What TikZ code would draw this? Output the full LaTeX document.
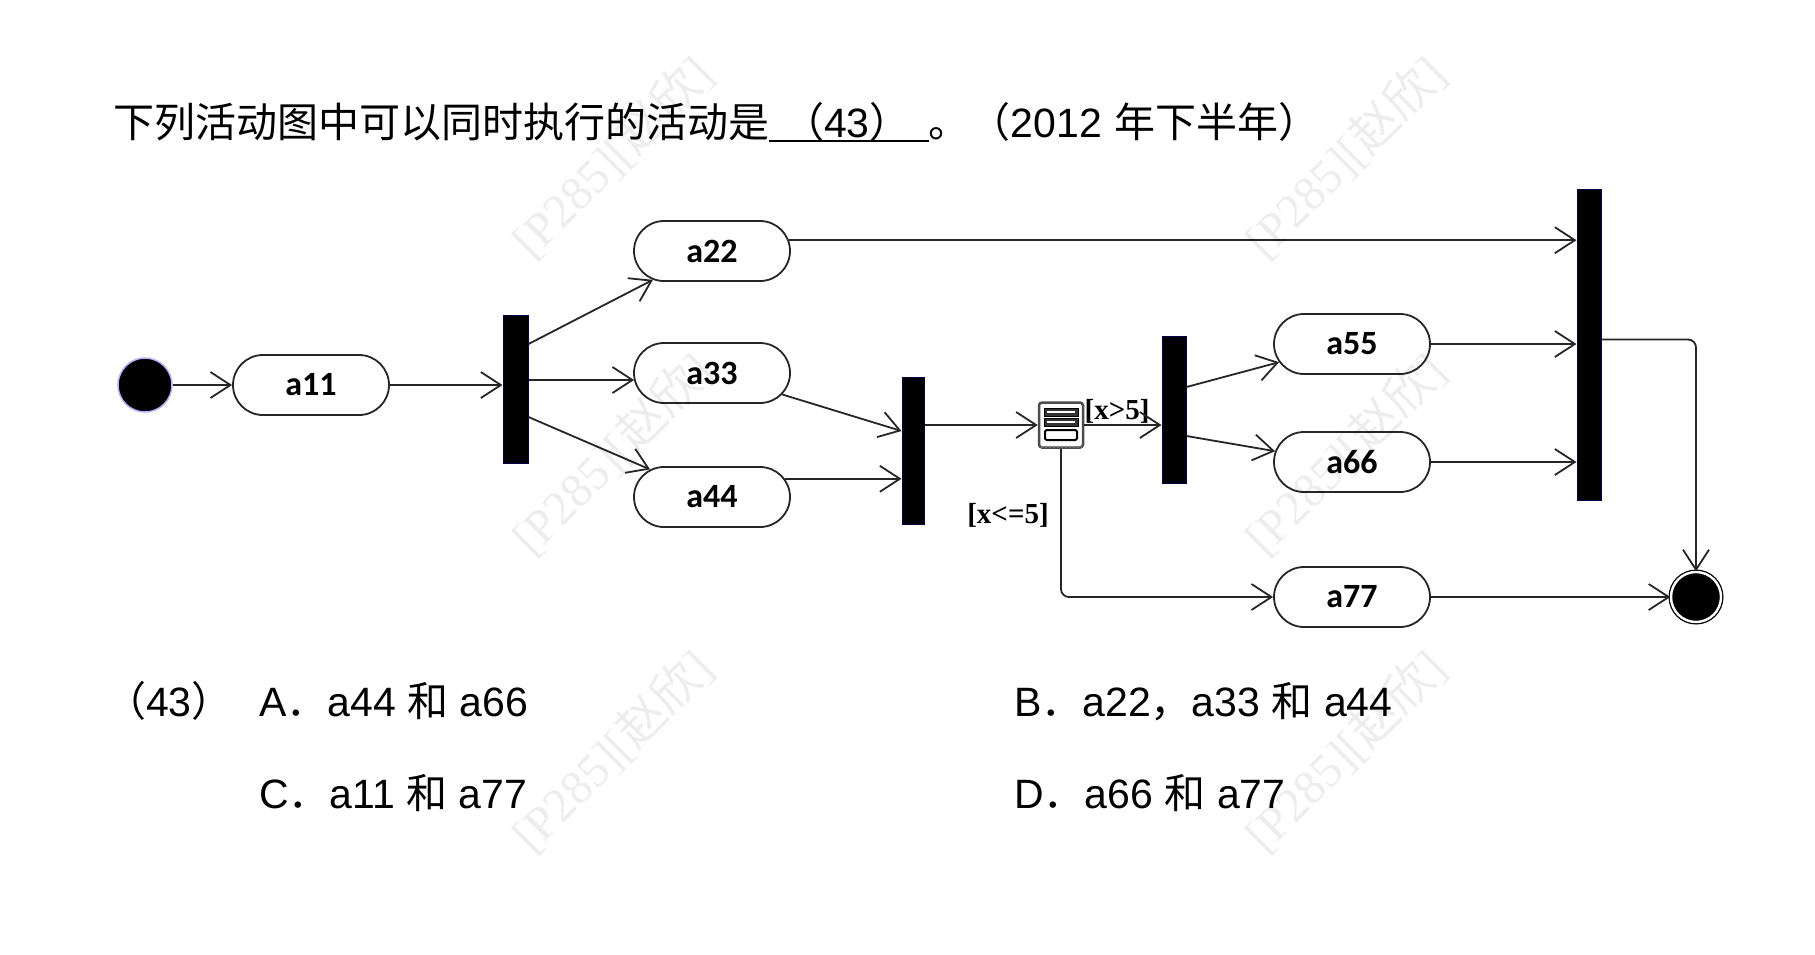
\documentclass[tikz,border=0pt]{standalone}
\usepackage{fontspec}
\setmainfont{Liberation Sans}
\newfontfamily\cjk{Noto Sans CJK SC}
\newfontfamily\lblfont{Carlito}
\newfontfamily\guardfont{Liberation Serif}
\usetikzlibrary{arrows.meta,shapes.misc,calc}
\newcommand\ulbox[1]{\setbox0\hbox{#1}\rlap{\rule[-5pt]{\wd0}{2.5pt}}\box0}
\begin{document}
\begin{tikzpicture}[x=1pt,y=-1pt,
  act/.style={rounded rectangle, draw=black!85, line width=1.8pt, fill=white,
    minimum width=156pt, minimum height=60pt, inner sep=0pt,
    font=\lblfont\bfseries\fontsize{34}{34}\selectfont},
  bar/.style={rectangle, fill=black, draw=blue!30!black, line width=1pt, inner sep=0pt, minimum width=24pt},
  flow/.style={draw=black!85, line width=1.8pt, -{Straight Barb[length=20pt,width=26pt]}},
  guard/.style={inner sep=0pt, font=\guardfont\bfseries\fontsize{29}{29}\selectfont},
  ans/.style={anchor=base west, inner sep=0pt, font=\fontsize{41}{48}\selectfont},
  wm/.style={rotate=45, inner sep=0pt, text=black, text opacity=0.07, font=\guardfont\fontsize{48}{48}\selectfont}
]
\fill[white] (0,0) rectangle (1815,954);
\useasboundingbox (0,0) rectangle (1815,954);

% title
\node[ans] (title) at (113,137) {{\cjk 下列活动图中可以同时执行的活动是}\ulbox{\hspace{14pt}{\cjk （}43{\cjk ）}\hspace{18pt}}{\cjk 。（}2012\hspace{12pt}{\cjk 年下半年）}};

% nodes
\node[circle, fill=black, draw=blue!30, line width=1.5pt, minimum size=54pt, inner sep=0pt] (start) at (145,385) {};
\node[act] (a11) at (311,385) {a11};
\node[bar, minimum width=25pt, minimum height=148pt] (b1) at (515.5,389) {};
\node[act] (a22) at (712,251) {a22};
\node[act] (a33) at (712,373) {a33};
\node[act] (a44) at (712,497) {a44};
\node[bar, minimum width=22pt, minimum height=147pt] (b2) at (913,450.5) {};
\node[rectangle, rounded corners=3pt, draw=black!70, line width=2.5pt, fill=white,
  minimum width=44pt, minimum height=45pt, inner sep=0pt] (dec) at (1061,425) {};
\node[bar, minimum height=147pt] (b3) at (1174,409.5) {};
\node[act] (a55) at (1352,344) {a55};
\node[act] (a66) at (1352,462) {a66};
\node[act] (a77) at (1352,597) {a77};
\node[bar, minimum height=311pt] (b4) at (1589,344.5) {};
\node[circle, fill=black, draw=black, line width=1.3pt, double=white, double distance=2.4pt,
  minimum size=50pt, inner sep=0pt] (end) at (1696,597) {};

% decision icon details
\filldraw[fill=black!80, draw=black, line width=0.8pt] ($(dec.center)+(-17,-17)$) rectangle ($(dec.center)+(17,-9)$);
\draw[white, line width=1.4pt] ($(dec.center)+(-14,-13)$) -- ($(dec.center)+(14,-13)$);
\filldraw[fill=black!80, draw=black, line width=0.8pt] ($(dec.center)+(-17,-7)$) rectangle ($(dec.center)+(17,1)$);
\draw[white, line width=1.4pt] ($(dec.center)+(-14,-3)$) -- ($(dec.center)+(14,-3)$);
\filldraw[fill=white, draw=black, line width=2pt, rounded corners=1.5pt] ($(dec.center)+(-16,5)$) rectangle ($(dec.center)+(16,15)$);
\draw[black!55, line width=2pt, dotted] ($(dec.south west)+(3,-2)$) -- ($(dec.south east)+(-3,-2)$);

% guards
\node[guard] (g1) at (1117,411) {[x>5]};
\node[guard] (g2) at (1008,515) {[x<=5]};

% connectors
\coordinate (a33in) at ($(a33.west)+(1,7)$);
\draw[flow] (start) -- (a11);
\draw[flow] (a11.east) -- (a11.east -| b1.west);
\draw[flow] ($(b1.east)+(0,-45)$) -- (a22.206);
\draw[flow] (b1.east |- a33in) -- (a33in);
\draw[flow] ($(b1.east)+(0,28)$) -- (a44.156);
\draw[flow] (a22.8) -- (a22.8 -| b4.west);
\draw[flow] (a33.-17) -- ($(b2.west)+(0,-19.5)$);
\draw[flow] (a44.14) -- (a44.14 -| b2.west);
\draw[flow] (b2.east |- dec.west) -- (dec.west);
\draw[flow] (dec.east) -- (dec.east -| b3.west);
\draw[flow, rounded corners=8pt] (dec.south) |- (a77.west);
\draw[flow] ($(b3.east)+(0,-22.5)$) -- (a55.194);
\draw[flow] ($(b3.east)+(0,26.5)$) -- (a66.172);
\draw[flow] (a55.east) -- (a55.east -| b4.west);
\draw[flow] (a66.east) -- (a66.east -| b4.west);
\draw[flow, rounded corners=8pt] ($(b4.east)+(0,-5)$) -| (end.north);
\draw[flow] (a77.east) -- (end.west);

% answers
\node[ans] (q) at (105,716) {{\cjk （}43{\cjk ）}};
\node[ans] (oa) at (259,716) {A{\cjk ．}a44 {\cjk 和} a66};
\node[ans] (ob) at (1014,716) {B{\cjk ．}a22{\cjk ，}a33 {\cjk 和} a44};
\node[ans] (oc) at (259,808) {C{\cjk ．}a11 {\cjk 和} a77};
\node[ans] (od) at (1014,808) {D{\cjk ．}a66 {\cjk 和} a77};

% watermarks
\node[wm] (w1) at (612,157) {[P285][{\cjk 赵欣}]};
\node[wm] (w2) at (1345,157) {[P285][{\cjk 赵欣}]};
\node[wm] (w3) at (612,454) {[P285][{\cjk 赵欣}]};
\node[wm] (w4) at (1345,454) {[P285][{\cjk 赵欣}]};
\node[wm] (w5) at (612,751) {[P285][{\cjk 赵欣}]};
\node[wm] (w6) at (1345,751) {[P285][{\cjk 赵欣}]};
\end{tikzpicture}
\end{document}
